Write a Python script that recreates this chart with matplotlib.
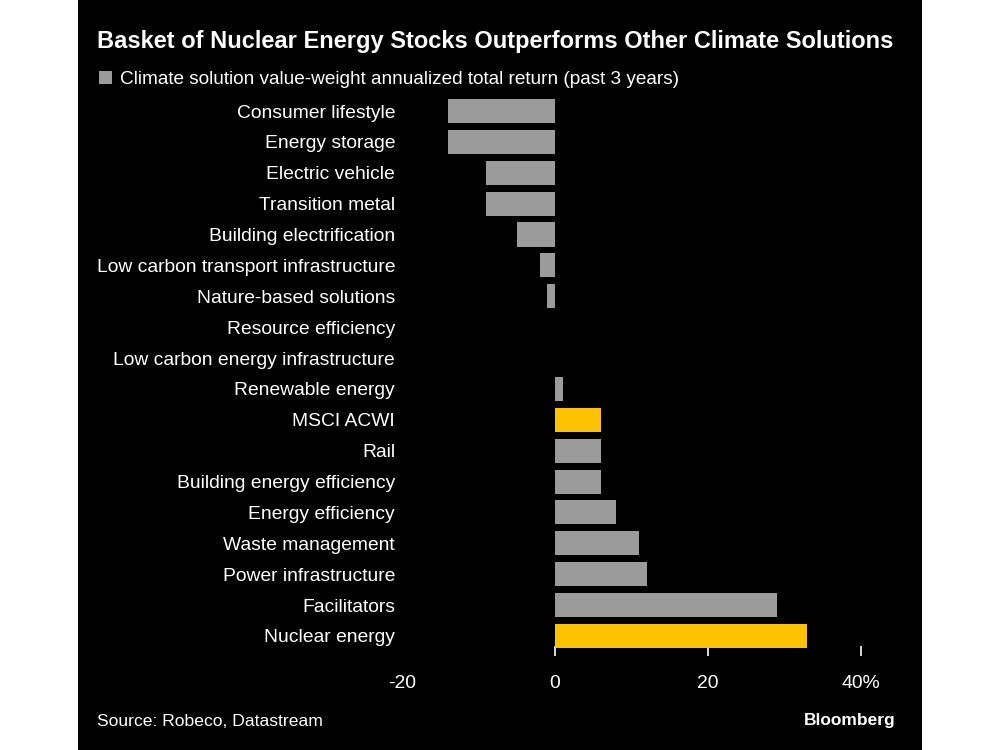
import matplotlib.pyplot as plt
from matplotlib.patches import Rectangle, Patch

plt.rcParams['font.family'] = ['Liberation Sans', 'DejaVu Sans']

# data (annualized total return, %, past 3 years)
categories = [
    "Consumer lifestyle", "Energy storage", "Electric vehicle", "Transition metal",
    "Building electrification", "Low carbon transport infrastructure",
    "Nature-based solutions", "Resource efficiency", "Low carbon energy infrastructure",
    "Renewable energy", "MSCI ACWI", "Rail", "Building energy efficiency",
    "Energy efficiency", "Waste management", "Power infrastructure",
    "Facilitators", "Nuclear energy",
]
returns = [-14, -14, -9, -9, -5, -2, -1, 0, 0, 1, 6, 6, 6, 8, 11, 12, 29, 33]
highlight = ["MSCI ACWI", "Nuclear energy"]
xticks = [-20, 0, 20, 40]
xtick_labels = ["-20", "0", "20", "40%"]

bg = "black"
grey = "#9b9b9b"
yellow = "#fdc300"
txt = "#ffffff"

fig = plt.figure(figsize=(10, 7.5), dpi=100, facecolor="white")
# black panel with white margins either side
fig.patches.append(Rectangle((0.078, 0), 0.844, 1, transform=fig.transFigure,
                             facecolor=bg, edgecolor="none", zorder=-10))

ax = fig.add_axes([0.402, 0.1253, 0.459, 0.7514])
ax.set_facecolor("none")

colors = [yellow if c in highlight else grey for c in categories]
ypos = list(range(len(categories)))
ax.barh(ypos, returns, height=0.78, color=colors, zorder=2)

ax.set_ylim(len(categories) - 1 + 0.65, -0.6)
ax.set_xlim(-20, 40)
ax.set_yticks(ypos)
ax.set_yticklabels(categories, fontsize=13.9, color=txt)
ax.tick_params(axis="y", length=0, pad=5)
ax.set_xticks(xticks)
ax.set_xticklabels(xtick_labels, fontsize=13.9, color=txt)
ax.tick_params(axis="x", direction="in", length=7, width=1.2, color=txt, pad=14)
ax.xaxis.get_major_ticks()[0].tick1line.set_visible(False)
for s in ax.spines.values():
    s.set_visible(False)

fig.text(0.097, 0.945, "Basket of Nuclear Energy Stocks Outperforms Other Climate Solutions",
         fontsize=17, fontweight="bold", color=txt, va="center", ha="left")

ax.legend(handles=[Patch(facecolor=grey, edgecolor="none")],
          labels=["Climate solution value-weight annualized total return (past 3 years)"],
          loc="center left", bbox_to_anchor=(0.099, 0.894), bbox_transform=fig.transFigure,
          frameon=False, fontsize=13.7, labelcolor=txt, handlelength=0.7, handleheight=0.7,
          handletextpad=0.4, borderpad=0, borderaxespad=0)

fig.text(0.097, 0.038, "Source: Robeco, Datastream", fontsize=12.6, color=txt,
         va="center", ha="left")
fig.text(0.896, 0.039, "Bloomberg", fontsize=12.5, fontweight="bold", color=txt,
         va="center", ha="right")

fig.savefig("out.png", dpi=100, facecolor=fig.get_facecolor())
